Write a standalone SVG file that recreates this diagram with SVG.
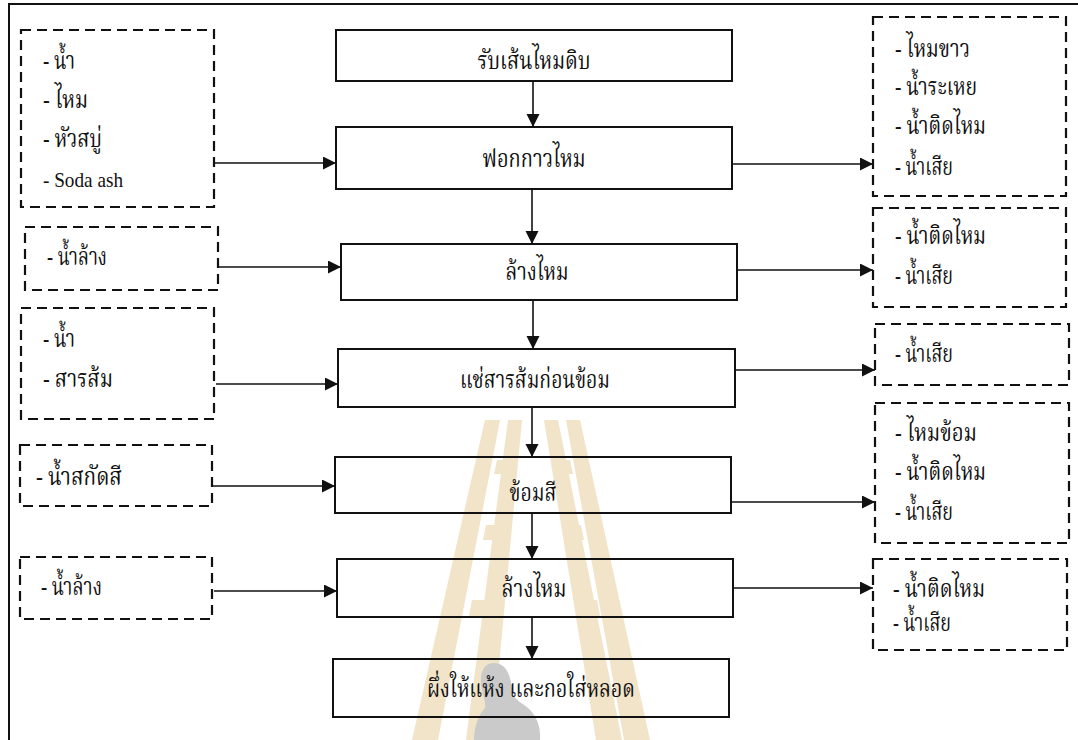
<svg xmlns="http://www.w3.org/2000/svg" width="1078" height="740" viewBox="0 0 1078 740">
  <style>
    text { font-family: "Liberation Serif", "Noto Serif Thai", "Noto Sans Thai", "DejaVu Serif", serif; font-size: 25px; fill: #111; }
    text.lat { font-family: "Liberation Serif", serif; font-size: 22px; }
    .c { text-anchor: middle; }
    .step { fill: none; stroke: #111; stroke-width: 2; }
    .aux { fill: none; stroke: #111; stroke-width: 2.2; stroke-dasharray: 10 6; }
    .wire { fill: none; stroke: #111; stroke-width: 1.6; }
  </style>
  <defs>
    <marker id="head" markerUnits="userSpaceOnUse" markerWidth="14" markerHeight="14" refX="13" refY="6.5" orient="auto">
      <path d="M0,0 L13,6.5 L0,13 z" fill="#111"/>
    </marker>
  </defs>

  <rect width="1078" height="740" fill="#fff"/>

  <!-- faint emblem in the background -->
  <g id="emblem" opacity="0.6">
    <g fill="#e8d3a6">
      <polygon points="485,420 500,420 438,740 412,740"/>
      <polygon points="508,420 522,420 492,740 466,740"/>
      <polygon points="497,460 515,460 512,474 494,474"/>
      <polygon points="486,525 504,525 501,540 483,540"/>
      <polygon points="472,600 491,600 488,616 469,616"/>
      <polygon points="544,420 558,420 622,740 596,740"/>
      <polygon points="566,420 580,420 650,740 624,740"/>
      <polygon points="552,460 570,460 573,474 555,474"/>
      <polygon points="563,525 581,525 584,540 566,540"/>
      <polygon points="578,600 597,600 600,616 581,616"/>
    </g>
    <path d="M494,663 C484,663 480,672 481,684 C482,694 486,700 485,708 C478,715 474,728 474,740 L540,740 C541,728 537,716 528,708 C522,703 516,700 512,694 C512,680 508,663 494,663 z" fill="#a8a8a8"/>
  </g>

  <!-- outer frame -->
  <path d="M9,740 L9,4 L1078,4" fill="none" stroke="#111" stroke-width="2"/>

  <!-- connectors -->
  <g id="connectors">
    <line class="wire" x1="533" y1="81" x2="533" y2="127" marker-end="url(#head)"/>
    <line class="wire" x1="532" y1="189" x2="532" y2="244" marker-end="url(#head)"/>
    <line class="wire" x1="533" y1="300" x2="533" y2="349" marker-end="url(#head)"/>
    <line class="wire" x1="532" y1="407" x2="532" y2="457" marker-end="url(#head)"/>
    <line class="wire" x1="532" y1="513" x2="532" y2="559" marker-end="url(#head)"/>
    <line class="wire" x1="532" y1="617" x2="532" y2="659" marker-end="url(#head)"/>

    <line class="wire" x1="214" y1="163" x2="336" y2="163" marker-end="url(#head)"/>
    <line class="wire" x1="218" y1="267" x2="341" y2="267" marker-end="url(#head)"/>
    <line class="wire" x1="216" y1="384" x2="338" y2="384" marker-end="url(#head)"/>
    <line class="wire" x1="212" y1="486" x2="335" y2="486" marker-end="url(#head)"/>
    <line class="wire" x1="214" y1="591" x2="337" y2="591" marker-end="url(#head)"/>

    <line class="wire" x1="732" y1="164" x2="873" y2="164" marker-end="url(#head)"/>
    <line class="wire" x1="737" y1="270" x2="873" y2="270" marker-end="url(#head)"/>
    <line class="wire" x1="735" y1="370" x2="875" y2="370" marker-end="url(#head)"/>
    <line class="wire" x1="731" y1="502" x2="875" y2="502" marker-end="url(#head)"/>
    <line class="wire" x1="733" y1="588" x2="873" y2="588" marker-end="url(#head)"/>
  </g>

  <!-- process steps -->
  <g id="step-receive">
    <rect class="step" x="336" y="30" width="396" height="51"/>
    <text class="c" x="534" y="69" textLength="113" lengthAdjust="spacingAndGlyphs">รับเส้นไหมดิบ</text>
  </g>
  <g id="step-degum">
    <rect class="step" x="336" y="127" width="396" height="62"/>
    <text class="c" x="534" y="167" textLength="103" lengthAdjust="spacingAndGlyphs">ฟอกกาวไหม</text>
  </g>
  <g id="step-rinse1">
    <rect class="step" x="341" y="244" width="396" height="56"/>
    <text class="c" x="537" y="280" textLength="63" lengthAdjust="spacingAndGlyphs">ล้างไหม</text>
  </g>
  <g id="step-alum">
    <rect class="step" x="338" y="349" width="397" height="58"/>
    <text class="c" x="535" y="388" textLength="150" lengthAdjust="spacingAndGlyphs">แช่สารส้มก่อนข้อม</text>
  </g>
  <g id="step-dye">
    <rect class="step" x="335" y="457" width="396" height="56"/>
    <text class="c" x="533" y="501" textLength="47" lengthAdjust="spacingAndGlyphs">ข้อมสี</text>
  </g>
  <g id="step-rinse2">
    <rect class="step" x="337" y="559" width="396" height="58"/>
    <text class="c" x="534" y="597" textLength="65" lengthAdjust="spacingAndGlyphs">ล้างไหม</text>
  </g>
  <g id="step-dry">
    <rect class="step" x="333" y="659" width="396" height="58"/>
    <text class="c" x="531" y="697" textLength="208" lengthAdjust="spacingAndGlyphs">ผึ่งให้แห้ง และกอใส่หลอด</text>
  </g>

  <!-- inputs -->
  <g id="in-degum">
    <rect class="aux" x="21" y="30" width="193" height="177"/>
    <text x="43" y="69" textLength="32" lengthAdjust="spacingAndGlyphs">- น้ำ</text>
    <text x="43" y="108" textLength="45" lengthAdjust="spacingAndGlyphs">- ไหม</text>
    <text x="43" y="147" textLength="59" lengthAdjust="spacingAndGlyphs">- หัวสบู่</text>
    <text class="lat" x="43" y="187" textLength="80" lengthAdjust="spacingAndGlyphs">- Soda ash</text>
  </g>
  <g id="in-rinse1">
    <rect class="aux" x="25" y="227" width="193" height="63"/>
    <text x="47" y="265" textLength="60" lengthAdjust="spacingAndGlyphs">- น้ำล้าง</text>
  </g>
  <g id="in-alum">
    <rect class="aux" x="21" y="308" width="193" height="111"/>
    <text x="43" y="347" textLength="32" lengthAdjust="spacingAndGlyphs">- น้ำ</text>
    <text x="43" y="387" textLength="70" lengthAdjust="spacingAndGlyphs">-  สารส้ม</text>
  </g>
  <g id="in-dye">
    <rect class="aux" x="20" y="445" width="192" height="61"/>
    <text x="36" y="485" textLength="86" lengthAdjust="spacingAndGlyphs">- น้ำสกัดสี</text>
  </g>
  <g id="in-rinse2">
    <rect class="aux" x="20" y="557" width="192" height="62"/>
    <text x="41" y="595" textLength="61" lengthAdjust="spacingAndGlyphs">- น้ำล้าง</text>
  </g>

  <!-- outputs -->
  <g id="out-degum">
    <rect class="aux" x="873" y="17" width="193" height="179"/>
    <text x="895" y="57" textLength="75" lengthAdjust="spacingAndGlyphs">- ไหมขาว</text>
    <text x="895" y="95" textLength="82" lengthAdjust="spacingAndGlyphs">- น้ำระเหย</text>
    <text x="895" y="134" textLength="91" lengthAdjust="spacingAndGlyphs">- น้ำติดไหม</text>
    <text x="895" y="175" textLength="58" lengthAdjust="spacingAndGlyphs">- น้ำเสีย</text>
  </g>
  <g id="out-rinse1">
    <rect class="aux" x="873" y="208" width="193" height="99"/>
    <text x="895" y="244" textLength="91" lengthAdjust="spacingAndGlyphs">- น้ำติดไหม</text>
    <text x="895" y="284" textLength="58" lengthAdjust="spacingAndGlyphs">- น้ำเสีย</text>
  </g>
  <g id="out-alum">
    <rect class="aux" x="875" y="324" width="194" height="61"/>
    <text x="895" y="362" textLength="58" lengthAdjust="spacingAndGlyphs">- น้ำเสีย</text>
  </g>
  <g id="out-dye">
    <rect class="aux" x="875" y="403" width="194" height="140"/>
    <text x="895" y="441" textLength="82" lengthAdjust="spacingAndGlyphs">- ไหมข้อม</text>
    <text x="895" y="480" textLength="91" lengthAdjust="spacingAndGlyphs">- น้ำติดไหม</text>
    <text x="895" y="520" textLength="58" lengthAdjust="spacingAndGlyphs">- น้ำเสีย</text>
  </g>
  <g id="out-rinse2">
    <rect class="aux" x="873" y="559" width="194" height="91"/>
    <text x="893" y="597" textLength="92" lengthAdjust="spacingAndGlyphs">- น้ำติดไหม</text>
    <text x="893" y="631" textLength="58" lengthAdjust="spacingAndGlyphs">- น้ำเสีย</text>
  </g>
</svg>
